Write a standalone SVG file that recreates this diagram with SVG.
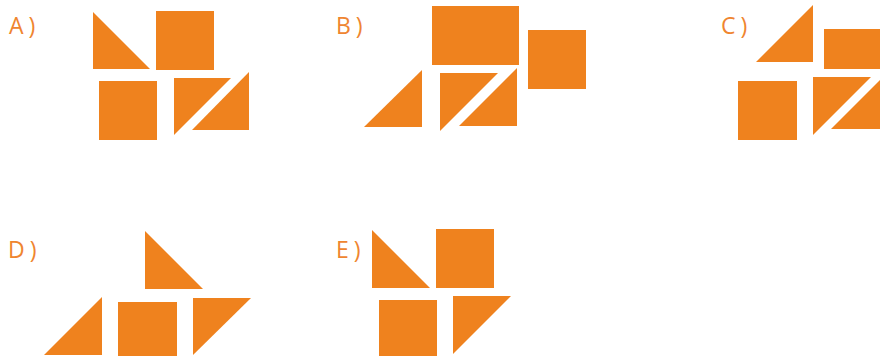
<svg xmlns="http://www.w3.org/2000/svg" width="880" height="356" viewBox="0 0 880 356">
<style>
.s{fill:#EF821E}
.l{fill:#EF8530;font-family:"Open Sans","DejaVu Sans",sans-serif;font-size:23px;letter-spacing:5px}
</style>
<rect width="880" height="356" fill="#fff"/>
<g id="optA">
<text class="l" x="9" y="34">A)</text>
<polygon class="s" points="93,12 93,69 150,69"/>
<rect class="s" x="156" y="11" width="58" height="59"/>
<rect class="s" x="99" y="81" width="58" height="59"/>
<polygon class="s" points="174,78 231,78 174,135"/>
<polygon class="s" points="249,72 249,130 192,130"/>
</g>
<g id="optB">
<text class="l" x="336" y="34">B)</text>
<rect class="s" x="432" y="6" width="87" height="59"/>
<rect class="s" x="528" y="30" width="58" height="59"/>
<polygon class="s" points="364,127 422,70 422,127"/>
<polygon class="s" points="440,73 498,73 440,131"/>
<polygon class="s" points="517,68 517,126 459,126"/>
</g>
<g id="optC">
<text class="l" x="721" y="34">C)</text>
<polygon class="s" points="756,62 813,5 813,62"/>
<rect class="s" x="824" y="29" width="56" height="40"/>
<rect class="s" x="738" y="81" width="59" height="59"/>
<polygon class="s" points="813,77 871,77 813,135"/>
<polygon class="s" points="831,129 889,71 889,129"/>
</g>
<g id="optD">
<text class="l" x="8" y="258">D)</text>
<polygon class="s" points="145,231 145,289 203,289"/>
<polygon class="s" points="44,355 102,297 102,355"/>
<rect class="s" x="118" y="302" width="59" height="58"/>
<polygon class="s" points="193,298 251,298 193,355"/>
</g>
<g id="optE">
<text class="l" x="336" y="258">E)</text>
<polygon class="s" points="372,230 372,288 430,288"/>
<rect class="s" x="436" y="229" width="58" height="59"/>
<rect class="s" x="379" y="300" width="58" height="56"/>
<polygon class="s" points="453,296 511,296 453,354"/>
</g>
<g id="connectors"/>
</svg>
